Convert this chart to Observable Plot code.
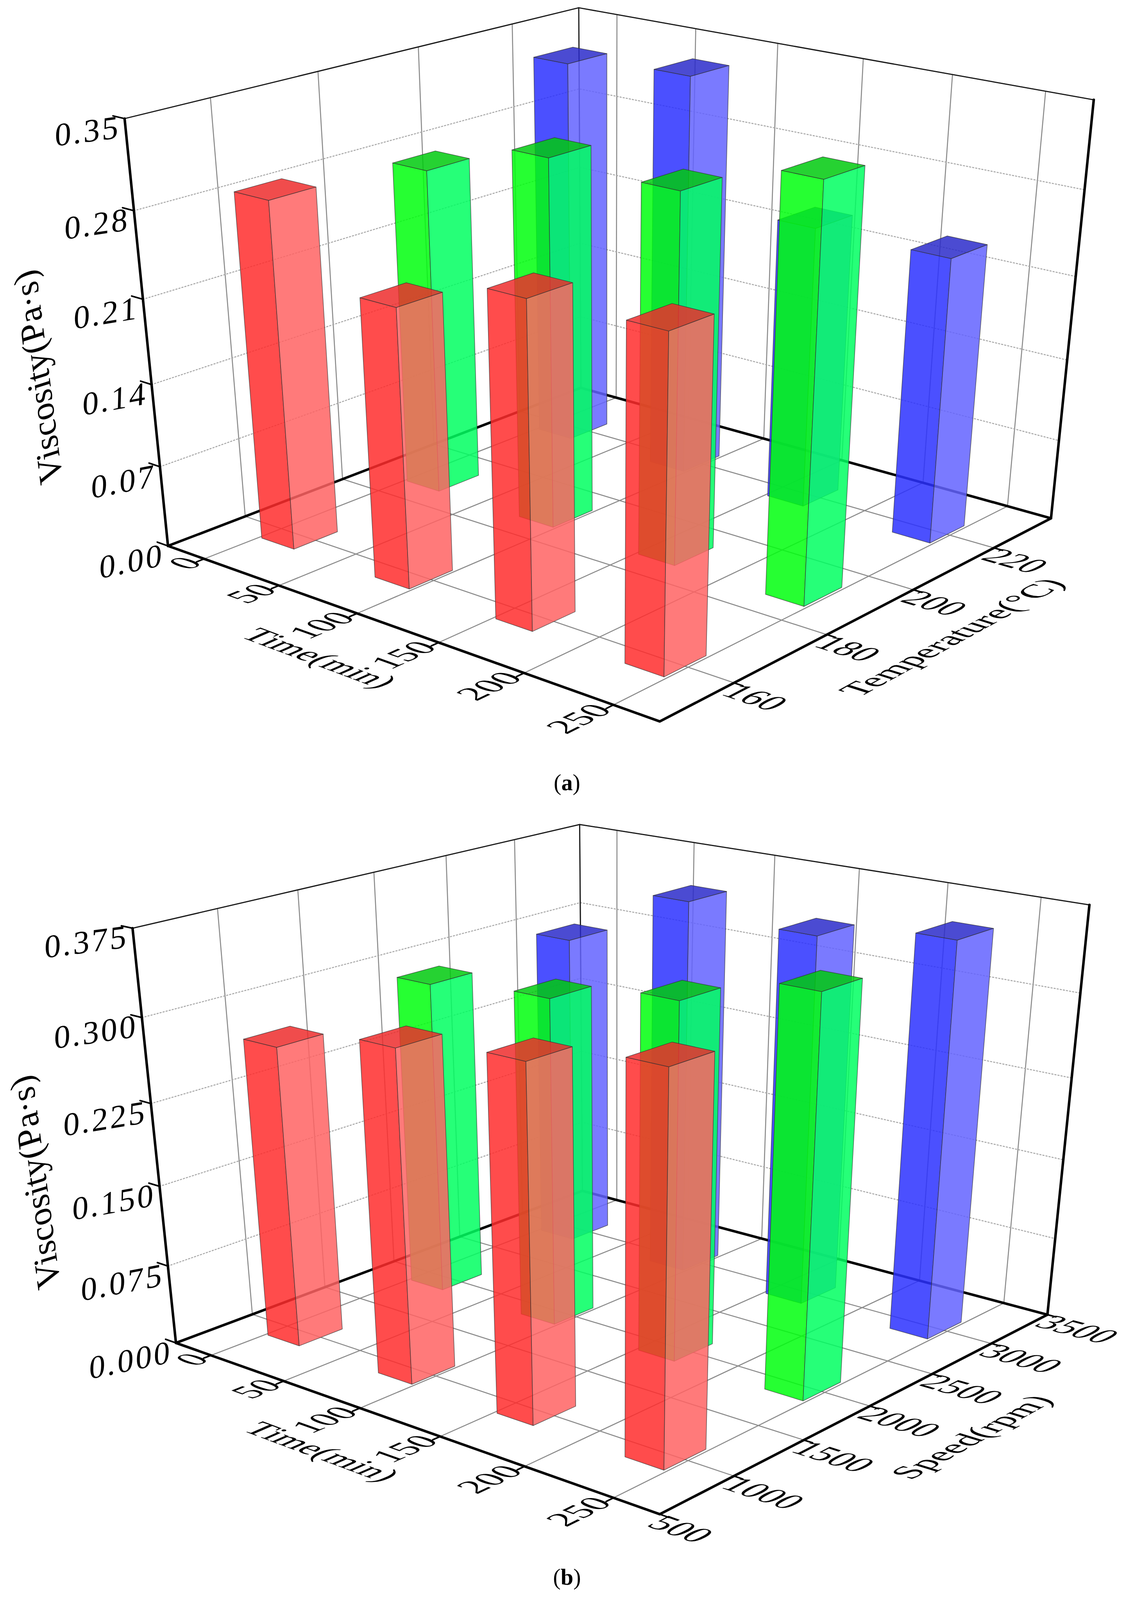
<!DOCTYPE html>
<html>
<head>
<meta charset="utf-8">
<script src="https://cdn.jsdelivr.net/npm/d3@7"></script>
<script src="https://cdn.jsdelivr.net/npm/@observablehq/plot@0.6"></script>
<style>
  html, body { margin: 0; padding: 0; background: #fff; overflow: hidden; }
  svg { display: block; }
  .cap { width: 2902px; text-align: center; font-family: "Liberation Serif", "Times New Roman", serif; color: #000; }
</style>
</head>
<body>
<div id="panelA"></div>
<div class="cap" id="capA">(<b>a</b>)</div>
<div id="panelB"></div>
<div class="cap" id="capB">(<b>b</b>)</div>
<script>
// ---------------- data ----------------
const timeCenters = [12.5, 87.5, 162.5, 237.5];      // bar positions (min)
const timeTicks = [0, 50, 100, 150, 200, 250];

// panel (a): temperature
const tempLevels = [160, 190, 220];
const tempTicks = [160, 180, 200, 220];
const viscT160 = [0.290, 0.232, 0.265, 0.268];
const viscT190 = [0.278, 0.310, 0.307, 0.338];
const viscT220 = [0.333, 0.342, 0.241, 0.241];
const viscTicksA = [0, 0.07, 0.14, 0.21, 0.28, 0.35];

// panel (b): speed
const speedLevels = [1000, 2000, 3000];
const speedTicks = [500, 1000, 1500, 2000, 2500, 3000, 3500];
const viscS1000 = [0.276, 0.300, 0.314, 0.335];
const viscS2000 = [0.293, 0.303, 0.324, 0.354];
const viscS3000 = [0.298, 0.353, 0.343, 0.360];
const viscTicksB = [0, 0.075, 0.15, 0.225, 0.3, 0.375];

// ---------------- layout & styles ----------------
const PAGE_W = 2902, PAGE_H = 4927;
const SY = Math.min(1, (window.innerHeight || PAGE_H) / PAGE_H);   // fit the figure into the visible window
const FS = Math.sqrt(SY);
const FONT = '"Liberation Serif", "Times New Roman", serif';
const faceColors = [
  ["rgb(255,45,45)", "rgb(255,99,99)", "rgb(237,45,45)"],   // red  : left, right, top
  ["rgb(0,255,14)", "rgb(0,255,96)", "rgb(0,202,14)"],      // green
  ["rgb(43,49,255)", "rgb(99,99,255)", "rgb(43,43,202)"]    // blue
];

// perspective cameras (homogeneous 3x4, columns: origin, u, v, w axes of the unit box)
const camA = {o: [429.38, 1680.50, 1], u: [1047.03, 262.14, -0.1253], v: [1280.45, -307.10, 0.1505], w: [-139.70, -1348.71, -0.09]};
const camB = {o: [449.74, 1674.88, 1], u: [1001.36, 218.47, -0.1403], v: [1274.64, -278.33, 0.1574], w: [-141.53, -1312.84, -0.09]};

function buildPanel(cfg) {
  const cam = cfg.camera;
  const P = ([u, v, w]) => {
    const X = cam.o[0] + cam.u[0] * u + cam.v[0] * v + cam.w[0] * w;
    const Y = cam.o[1] + cam.u[1] * u + cam.v[1] * v + cam.w[1] * w;
    const H = cam.o[2] + cam.u[2] * u + cam.v[2] * v + cam.w[2] * w;
    return [X / H, Y / H, H];
  };
  const dir = (p, d) => {
    const e = 1e-3;
    const a = P(p), b = P([p[0] + e * d[0], p[1] + e * d[1], p[2] + e * d[2]]);
    const dx = b[0] - a[0], dy = (b[1] - a[1]) * SY, L = Math.hypot(dx, dy);
    return [dx / L, dy / L];
  };
  const U = d3.scaleLinear(cfg.uDomain, [0, 1]);
  const V = d3.scaleLinear(cfg.vDomain, [0, 1]);
  const Z = d3.scaleLinear(cfg.zDomain, [0, 1]);

  let nid = 0;
  const poly = (list, corners, props = {}) => {
    const id = nid++;
    for (const c of corners) { const [x, y] = P(c); list.push({x, y, id, ...props}); }
  };

  const gridSolid = [], gridDot = [], frameThin = [], frameThick = [], tickMarks = [], faces = [];
  for (const t of cfg.uTicks) { const u = U(t); poly(gridSolid, [[u, 0, 0], [u, 1, 0], [u, 1, 1]]); }
  for (const t of cfg.vTicks) { const v = V(t); poly(gridSolid, [[1, v, 0], [0, v, 0], [0, v, 1]]); }
  for (const t of cfg.zTicks) { const w = Z(t); if (w > 0.001 && w < 0.999) poly(gridDot, [[0, 0, w], [0, 1, w], [1, 1, w]]); }
  poly(frameThin, [[0, 0, 1], [0, 1, 1], [1, 1, 1]]);
  poly(frameThin, [[0, 1, 0], [0, 1, 1]]);
  poly(frameThick, [[0, 0, 0], [1, 0, 0], [1, 1, 0], [0, 1, 0], [0, 0, 0]]);
  poly(frameThick, [[0, 0, 0], [0, 0, 1]]);
  poly(frameThick, [[1, 1, 0], [1, 1, 1]]);
  for (const t of cfg.zTicks) { const w = Z(t); poly(tickMarks, [[0, 0, w], [-0.025, 0, w]]); }
  for (const t of cfg.vTicks) { const v = V(t); poly(tickMarks, [[1, v, 0], [1.016, v, 0]]); }
  for (const t of cfg.uTicks) { const u = U(t); poly(tickMarks, [[u, 0, 0], [u, -0.016, 0]]); }

  // bars (painter's order: farthest first)
  const bars = [];
  cfg.series.forEach((s, si) => s.values.forEach((val, ti) => {
    const tc = cfg.uCenters[ti];
    const u0 = U(tc - cfg.barU / 2), u1 = U(tc + cfg.barU / 2);
    const v0 = V(s.level - cfg.barV / 2), v1 = V(s.level + cfg.barV / 2);
    const depth = P([(u0 + u1) / 2, (v0 + v1) / 2, 0])[2];
    bars.push({u0, u1, v0, v1, h: Z(val), col: faceColors[si], depth});
  }));
  bars.sort((a, b) => b.depth - a.depth);
  for (const b of bars) {
    poly(faces, [[b.u0, b.v0, 0], [b.u1, b.v0, 0], [b.u1, b.v0, b.h], [b.u0, b.v0, b.h]], {fill: b.col[0]});
    poly(faces, [[b.u1, b.v0, 0], [b.u1, b.v1, 0], [b.u1, b.v1, b.h], [b.u1, b.v0, b.h]], {fill: b.col[1]});
    poly(faces, [[b.u0, b.v0, b.h], [b.u1, b.v0, b.h], [b.u1, b.v1, b.h], [b.u0, b.v1, b.h]], {fill: b.col[2]});
  }

  // labels lying in 3D planes
  const mk = (p, text, read, up, dy) => {
    const [x, y] = P(p);
    const r = dir(p, read), q = dir(p, up);
    return {x, y, text, m: [r[0], r[1], -q[0], -q[1]], dy};
  };
  const zLab = cfg.zTicks.map(t => mk([0, -0.008, Z(t)], cfg.zFormat(t), [0.344, 1, 0], [0.12, 0, 1], "0.55em"));
  const uLab = cfg.uTicks.map(t => mk([U(t), -0.014, 0], String(t), [0, 1, 0], [-1, 0, 0], "0.2em"));
  const vLab = cfg.vTicks.map(t => mk([1.008, V(t), 0], String(t), [1, 0, 0], [0, 1, 0], "0.6em"));
  const uTit = [mk([0.49, -0.15, 0], cfg.uTitle, [1, 0, 0], [0, 1, 0], "0.35em")];
  const vTit = [mk([cfg.vTitleU, 0.5, 0], cfg.vTitle, [0, 1, 0], [-1, 0, 0], "0.35em")];
  const zTit = [mk([0, cfg.zTitleV, 0.5], cfg.zTitle, [0, 0, 1], [0, -1, 0], "0.35em")];

  const H = cfg.height * SY;
  const svg = Plot.plot({
    width: PAGE_W, height: H, margin: 0,
    x: {type: "linear", domain: [0, PAGE_W], range: [0, PAGE_W], axis: null},
    y: {type: "linear", domain: [0, cfg.height], range: [0, H], axis: null},
    color: {type: "identity"},
    style: {background: "#fff"},
    marks: [
      Plot.line(gridSolid, {x: "x", y: "y", z: "id", stroke: "#8a8a8a", strokeWidth: 2.6}),
      Plot.line(gridDot, {x: "x", y: "y", z: "id", stroke: "#a8a8a8", strokeWidth: 2.6, strokeDasharray: "3,5"}),
      Plot.line(frameThin, {x: "x", y: "y", z: "id", stroke: "#1a1a1a", strokeWidth: 3}),
      Plot.line(frameThick, {x: "x", y: "y", z: "id", stroke: "#000", strokeWidth: 6.5}),
      Plot.line(tickMarks, {x: "x", y: "y", z: "id", stroke: "#000", strokeWidth: 4}),
      Plot.line(faces, {x: "x", y: "y", z: "id", fill: "fill", fillOpacity: 0.85, stroke: "#333", strokeWidth: 1.5, strokeOpacity: 0.75, curve: "linear-closed"}),
      Plot.text(zLab, {x: "x", y: "y", text: "text", textAnchor: "end", fontSize: 92 * FS, fontFamily: FONT, ariaDescription: "zlab"}),
      Plot.text(uLab, {x: "x", y: "y", text: "text", textAnchor: "end", fontSize: 100 * FS, fontFamily: FONT, ariaDescription: "ulab"}),
      Plot.text(vLab, {x: "x", y: "y", text: "text", textAnchor: "start", fontSize: 100 * FS, fontFamily: FONT, ariaDescription: "vlab"}),
      Plot.text(uTit, {x: "x", y: "y", text: "text", textAnchor: "middle", fontSize: 98 * FS, fontFamily: FONT, ariaDescription: "utit"}),
      Plot.text(vTit, {x: "x", y: "y", text: "text", textAnchor: "middle", fontSize: 98 * FS, fontFamily: FONT, ariaDescription: "vtit"}),
      Plot.text(zTit, {x: "x", y: "y", text: "text", textAnchor: "middle", fontSize: 98 * FS, fontFamily: FONT, ariaDescription: "ztit"})
    ]
  });

  const orient = (key, items, spacing) => {
    svg.querySelectorAll(`g[aria-description="${key}"] text`).forEach(el => {
      const it = items[d3.select(el).datum()];
      if (!it) return;
      el.setAttribute("transform", `${el.getAttribute("transform") || ""} matrix(${it.m.map(v => v.toFixed(4)).join(" ")} 0 0)`);
      el.setAttribute("y", it.dy);
      if (spacing) el.style.letterSpacing = spacing;
    });
  };
  orient("zlab", zLab, `${6 * FS}px`);
  orient("ulab", uLab);
  orient("vlab", vLab);
  orient("utit", uTit);
  orient("vtit", vTit);
  orient("ztit", zTit);
  return svg;
}

const panelA = buildPanel({
  camera: camA, height: 2360,
  uDomain: [-25, 275], vDomain: [145, 235], zDomain: [0, 0.35],
  uTicks: timeTicks, vTicks: tempTicks, zTicks: viscTicksA, zFormat: d3.format(".2f"),
  uCenters: timeCenters, barU: 21.75, barV: 8.7,
  series: [
    {level: tempLevels[0], values: viscT160},
    {level: tempLevels[1], values: viscT190},
    {level: tempLevels[2], values: viscT220}
  ],
  uTitle: "Time(min)", vTitle: "Temperature(°C)", zTitle: "Viscosity(Pa·s)",
  vTitleU: 1.145, zTitleV: -0.212
});
document.getElementById("panelA").appendChild(panelA);

const panelB = buildPanel({
  camera: camB, height: 2347,
  uDomain: [-25, 275], vDomain: [500, 3500], zDomain: [0, 0.375],
  uTicks: timeTicks, vTicks: speedTicks, zTicks: viscTicksB, zFormat: d3.format(".3f"),
  uCenters: timeCenters, barU: 21.75, barV: 290,
  series: [
    {level: speedLevels[0], values: viscS1000},
    {level: speedLevels[1], values: viscS2000},
    {level: speedLevels[2], values: viscS3000}
  ],
  uTitle: "Time(min)", vTitle: "Speed(rpm)", zTitle: "Viscosity(Pa·s)",
  vTitleU: 1.18, zTitleV: -0.234
});
document.getElementById("panelB").appendChild(panelB);

for (const id of ["capA", "capB"]) {
  const el = document.getElementById(id);
  el.style.height = `${100 * SY}px`;
  el.style.lineHeight = `${100 * SY}px`;
  el.style.fontSize = `${64 * FS}px`;
}
</script>
</body>
</html>
